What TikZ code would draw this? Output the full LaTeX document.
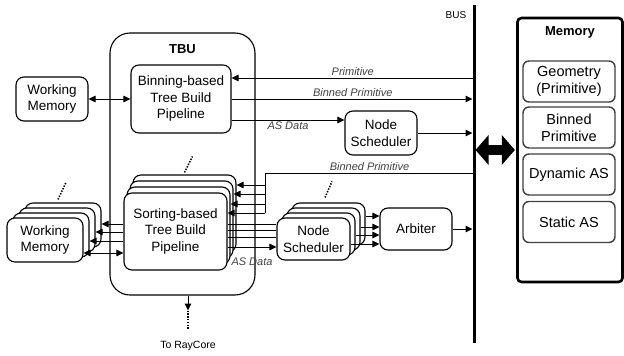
\documentclass[tikz,border=0pt]{standalone}
\usepackage{fontspec}
\setmainfont{Liberation Sans}
\usetikzlibrary{arrows.meta}

\begin{document}
\begin{tikzpicture}[x=1pt,y=-1pt,
    box/.style={draw, line width=1.1pt, rounded corners=8pt, fill=white, align=center, inner sep=0pt, font=\fontsize{13.5}{16.5}\selectfont},
    membox/.style={box, draw=black!75, line width=1.4pt, rounded corners=6pt, minimum width=92pt, minimum height=41pt, font=\fontsize{14.5}{17}\selectfont},
    lbl/.style={font=\fontsize{11}{13}\selectfont\itshape, text=black!75, inner sep=1.5pt},
    arr/.style={line width=1pt, -{Triangle[length=7pt,width=6.5pt]}},
    dblarr/.style={line width=1pt, {Triangle[length=7pt,width=6.5pt]}-{Triangle[length=7pt,width=6.5pt]}},
    dots/.style={line width=1.6pt, dash pattern=on 1.4pt off 1.4pt},
  ]
  \useasboundingbox (0,0) rectangle (624,356);

  % TBU
  \node[box, rounded corners=20pt, minimum width=145pt, minimum height=262pt] (tbu) at (182.5,164) {};
  \node[font=\fontsize{13}{15}\selectfont\bfseries] (tbulbl) at ([yshift=-17pt]tbu.north) {TBU};

  \node[box, minimum width=100pt, minimum height=68pt] (bin) at (181,99) {Binning-based\\Tree Build\\Pipeline};
  \node[box, minimum width=72pt, minimum height=44pt] (wm) at (52,99) {Working\\Memory};
  \node[box, minimum width=72pt, minimum height=44pt] (ns) at (381,133) {Node\\Scheduler};
  \node[box, minimum width=72pt, minimum height=42pt] (arb) at (416,229) {Arbiter};

  % stacked copies
  \foreach \i in {3,2,1}
    \node[box, minimum width=103pt, minimum height=77pt] (sort\i) at (175.5+3*\i, 231.5-6*\i) {};
  \node[box, minimum width=103pt, minimum height=77pt] (sort0) at (175.5,231.5) {Sorting-based\\Tree Build\\Pipeline};

  \foreach \i in {3,2,1}
    \node[box, minimum width=76pt, minimum height=44pt] (wmb\i) at (45+6*\i, 240-5*\i) {};
  \node[box, minimum width=76pt, minimum height=44pt] (wmb0) at (45,240) {Working\\Memory};

  \foreach \i in {3,2,1}
    \node[box, minimum width=73pt, minimum height=42pt] (nsb\i) at (313.5+5*\i, 239-5*\i) {};
  \node[box, minimum width=73pt, minimum height=42pt] (nsb0) at (313.5,239) {Node\\Scheduler};

  % memory
  \node[box, line width=2.6pt, rounded corners=4pt, minimum width=105pt, minimum height=264pt] (mem) at (570,150) {};
  \node[font=\fontsize{13}{15}\selectfont\bfseries] (memlbl) at ([yshift=-16pt]mem.north) {Memory};
  \node[membox] (geo) at (569,81.5) {Geometry\\(Primitive)};
  \node[membox] (binp) at (569,127.5) {Binned\\Primitive};
  \node[membox] (dyn) at (569,174.5) {Dynamic AS};
  \node[membox] (stat) at (569,222) {Static AS};

  % bus
  \coordinate (busT) at (474,5);
  \coordinate (busB) at (474,343);
  \draw[line width=3pt] (busT) -- (busB);
  \node[font=\fontsize{10}{12}\selectfont] (buslbl) at ([xshift=-18pt,yshift=-10pt]busT) {BUS};

  \coordinate (bc) at (mem.west -| busT);
  \draw[line width=10pt, {Triangle[length=13pt,width=29pt]}-{Triangle[length=13pt,width=29pt]}] ([xshift=1.5pt]bc) -- ([xshift=-1.3pt]mem.west);

  % binning pipeline
  \draw[dblarr] (wm.east) -- (bin.west);
  \coordinate (p1) at ([yshift=21pt]bin.east);
  \draw[arr] (p1 -| busT) -- (p1) node[lbl, midway, above] {Primitive};
  \coordinate (p2) at (bin.east);
  \draw[arr, shorten >=1.5pt] (p2) -- (p2 -| busT) node[lbl, midway, above] {Binned Primitive};
  \coordinate (p3) at ([yshift=-21pt]bin.east);
  \draw[arr] (p3) -- (p3 -| ns.west) node[lbl, midway, below] {AS Data};
  \draw[arr, shorten >=1.5pt] (ns.east) -- (ns.east -| busT);
  \draw[arr, shorten >=1.5pt] (arb.east) -- (arb.east -| busT);

  % sorting pipeline
  \coordinate (bp) at (265,173);
  \draw[line width=1pt] (bp -| busT) -- (bp) node[lbl, midway, above] {Binned Primitive};
  \foreach \i/\dy in {3/28.5,2/25.5,1/21.5,0/18.5} {
    \coordinate (t\i) at ([yshift=\dy pt]sort\i.east);
    \draw[arr] (t\i -| bp) -- (t\i);
  }
  \draw[line width=1pt] (bp) -- (t0 -| bp);

  \foreach \dy [count=\k] in {15,9,2} {
    \coordinate (q\k) at ([yshift=\dy pt]nsb0.west);
    \draw[line width=1pt] (q\k -| sort0.east) -- (q\k);
  }
  \coordinate (q4) at ([yshift=-8pt]nsb0.west);
  \draw[arr] (q4 -| sort0.east) -- (q4) node[lbl, midway, below=9pt] {AS Data};

  \foreach \i/\dy in {3/8,2/2,1/-1,0/-5} {
    \coordinate (r\i) at ([yshift=\dy pt]nsb\i.east);
    \draw[arr] (r\i) -- (r\i -| arb.west);
  }

  \foreach \i/\dy in {3/1,2/-2,1/-6} {
    \coordinate (w\i) at ([yshift=\dy pt]wmb\i.east);
    \draw[arr] (w\i -| sort0.west) -- (w\i);
  }
  \coordinate (w0) at ([yshift=-13pt]wmb0.east);
  \draw[dblarr] (w0) -- (w0 -| sort0.west);

  % more of them
  \draw[dots] ([yshift=2pt]sort3.north) -- ++(8,-16);
  \draw[dots] ([xshift=-5pt,yshift=3pt]wmb3.north) -- ++(8,-17);
  \draw[dots] ([xshift=-3.5pt,yshift=5pt]nsb3.north) -- ++(7,-16);

  % to RayCore
  \coordinate (rc) at ([xshift=5.5pt]tbu.south);
  \draw[arr] (rc) -- ++(0,15) coordinate (rc2);
  \draw[dots] (rc2) -- ++(0,18);
  \node[font=\fontsize{10.5}{12}\selectfont] (rclbl) at ([yshift=-50pt]rc) {To RayCore};
\end{tikzpicture}
\end{document}
